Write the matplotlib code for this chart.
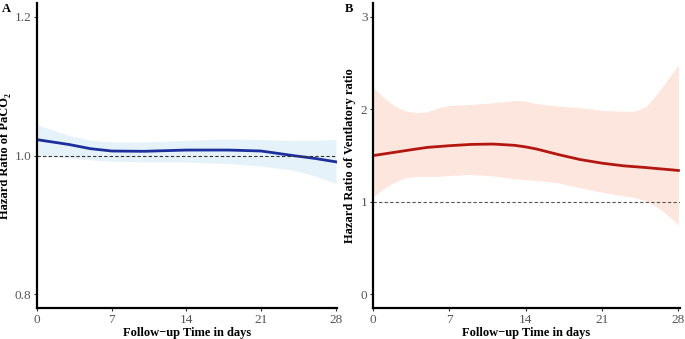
import matplotlib
matplotlib.use("Agg")
import matplotlib.pyplot as plt

plt.rcParams['font.family'] = ['Liberation Serif', 'DejaVu Serif']

# panel A: PaCO2
days_a = [0, 3, 5, 7, 10, 14, 18, 21, 24, 26, 28]
hr_a = [1.023, 1.016, 1.010, 1.0066, 1.0062, 1.008, 1.008, 1.0066, 1.0, 0.996, 0.991]
up_a = [1.0445, 1.029, 1.022, 1.0196, 1.0196, 1.022, 1.024, 1.023, 1.022, 1.022, 1.0234]
lo_a = [0.9995, 0.9966, 0.994, 0.992, 0.9908, 0.9908, 0.9885, 0.985, 0.979, 0.971, 0.960]

# panel B: ventilatory ratio
days_b = [0, 1, 2, 3, 4, 5, 6, 7, 9, 11, 13, 14, 15, 17, 19, 21, 23, 24, 25, 26, 27, 28]
hr_b = [1.50, 1.518, 1.536, 1.554, 1.572, 1.589, 1.598, 1.607, 1.621, 1.625, 1.611, 1.594,
        1.571, 1.511, 1.457, 1.418, 1.389, 1.380, 1.371, 1.360, 1.350, 1.339]
up_b = [2.239, 2.125, 2.036, 1.982, 1.964, 1.975, 2.018, 2.043, 2.054, 2.071, 2.096, 2.089,
        2.061, 2.036, 2.018, 1.989, 1.979, 1.982, 2.025, 2.161, 2.321, 2.482]
lo_b = [1.054, 1.143, 1.214, 1.261, 1.275, 1.275, 1.275, 1.285, 1.296, 1.28, 1.25, 1.239,
        1.232, 1.205, 1.152, 1.104, 1.064, 1.046, 1.011, 0.946, 0.857, 0.75]

xticks = [0, 7, 14, 21, 28]
yticks_a = [0.8, 1.0, 1.2]
yticks_b = [0, 1, 2, 3]


def style(ax, ylabel, label_x):
    for s in ['top', 'right']:
        ax.spines[s].set_visible(False)
    for s in ['left', 'bottom']:
        ax.spines[s].set_linewidth(1.6)
        ax.spines[s].set_color('black')
    ax.tick_params(axis='both', labelsize=9.5, colors='#333333', labelcolor='#555555',
                   length=2.5, width=0.8, pad=1.5)
    ax.set_xticks(xticks)
    ax.set_xlim(0, 28.1)
    ax.set_xlabel('Follow\u2212up Time in days', fontsize=9, fontweight='bold', labelpad=1)
    ax.set_ylabel(ylabel, fontsize=9, fontweight='bold')
    ax.yaxis.set_label_coords(label_x, 0.5)


fig = plt.figure(figsize=(6.85, 3.39), dpi=100)

ax1 = fig.add_axes([0.054, 0.091, 0.438, 0.9])
ax1.fill_between(days_a, lo_a, up_a, color='#e5f2f9', lw=0)
ax1.plot(days_a, hr_a, color='#1c2f9c', lw=2)
ax1.axhline(1.0, color='#333333', lw=0.8, ls=(0, (3, 2)))
ax1.set_ylim(0.78, 1.22)
ax1.set_yticks(yticks_a)
ax1.set_yticklabels(['0.8', '1.0', '1.2'])
style(ax1, 'Hazard Ratio of PaCO\u2082', -0.088)

ax2 = fig.add_axes([0.5445, 0.091, 0.4475, 0.9])
ax2.fill_between(days_b, lo_b, up_b, color='#fde6dd', lw=0)
ax2.plot(days_b, hr_b, color='#b3170f', lw=2)
ax2.axhline(1.0, color='#555555', lw=0.8, ls=(0, (3, 2)))
ax2.set_ylim(-0.15, 3.15)
ax2.set_yticks(yticks_b)
style(ax2, 'Hazard Ratio of Ventlatory ratio', -0.054)

fig.text(0.003, 0.965, 'A', fontsize=9, fontweight='bold')
fig.text(0.504, 0.965, 'B', fontsize=9, fontweight='bold')

fig.savefig('out.png', dpi=100)
